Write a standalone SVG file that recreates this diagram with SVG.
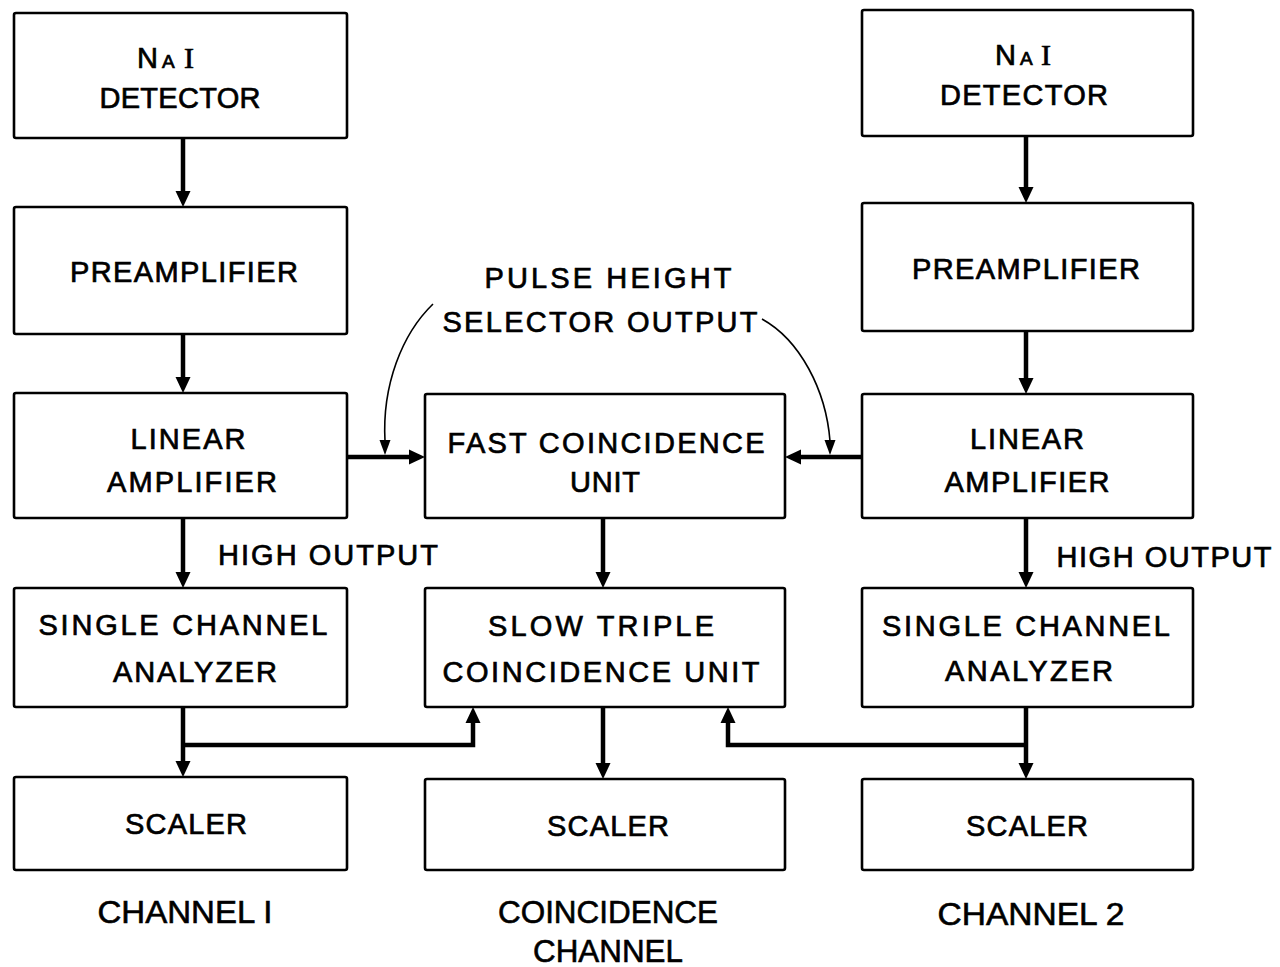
<svg xmlns="http://www.w3.org/2000/svg" xmlns:xlink="http://www.w3.org/1999/xlink" width="1280" height="967" viewBox="0 0 1280 967">
  <style>
    .box { fill: #fff; stroke: #000; stroke-width: 2.6; }
    .lbl { font-family: "Liberation Sans", Arial, sans-serif; font-size: 29px; fill: #000; stroke: #000; stroke-width: 0.7; text-anchor: middle; }
    .nai { font-family: "Liberation Sans", Arial, sans-serif; font-size: 29px; fill: #000; stroke: #000; stroke-width: 0.7; }
    .serif { font-family: "Liberation Serif", "Times New Roman", serif; }
    .cap { font-family: "Liberation Sans Narrow", "Liberation Sans", Arial, sans-serif; font-size: 32px; fill: #000; stroke: #000; stroke-width: 0.6; text-anchor: middle; }
    .wire { fill: none; stroke: #000; stroke-width: 4.5; }
    .thin { fill: none; stroke: #000; stroke-width: 1.6; }
  </style>
  <defs>
    <!-- arrowheads, tip at the origin, pointing down (+y) -->
    <path id="ah" d="M0,0 L-7.5,-16 L7.5,-16 Z" fill="#000"/>
    <path id="ahs" d="M0,0 L-5.5,-15 L5.5,-15 Z" fill="#000"/>
  </defs>
  <rect width="1280" height="967" fill="#fff"/>

  <!-- channel 1 -->
  <g id="det1">
    <rect class="box" x="14" y="13" width="333" height="125" rx="2"/>
    <text class="nai" y="68"><tspan x="137">N</tspan><tspan x="162" font-size="19">A</tspan><tspan x="184" class="serif" font-size="30">I</tspan></text>
    <text class="lbl" x="180" y="108" textLength="161" lengthAdjust="spacing">DETECTOR</text>
  </g>
  <g id="pre1">
    <rect class="box" x="14" y="207" width="333" height="127" rx="2"/>
    <text class="lbl" x="184" y="282" textLength="228" lengthAdjust="spacing">PREAMPLIFIER</text>
  </g>
  <g id="lin1">
    <rect class="box" x="14" y="393" width="333" height="125" rx="2"/>
    <text class="lbl" x="188" y="449" textLength="115" lengthAdjust="spacing">LINEAR</text>
    <text class="lbl" x="192" y="492" textLength="170" lengthAdjust="spacing">AMPLIFIER</text>
  </g>
  <g id="sca1">
    <rect class="box" x="14" y="588" width="333" height="119" rx="2"/>
    <text class="lbl" x="183" y="635" textLength="289" lengthAdjust="spacing">SINGLE CHANNEL</text>
    <text class="lbl" x="195" y="682" textLength="164" lengthAdjust="spacing">ANALYZER</text>
  </g>
  <g id="scaler1">
    <rect class="box" x="14" y="777" width="333" height="93" rx="2"/>
    <text class="lbl" x="186" y="834" textLength="122" lengthAdjust="spacing">SCALER</text>
  </g>

  <!-- coincidence channel -->
  <g id="fast">
    <rect class="box" x="425" y="394" width="360" height="124" rx="2"/>
    <text class="lbl" x="606" y="453" textLength="317" lengthAdjust="spacing">FAST COINCIDENCE</text>
    <text class="lbl" x="605" y="492" textLength="70" lengthAdjust="spacing">UNIT</text>
  </g>
  <g id="slow">
    <rect class="box" x="425" y="588" width="360" height="119" rx="2"/>
    <text class="lbl" x="601" y="636" textLength="226" lengthAdjust="spacing">SLOW TRIPLE</text>
    <text class="lbl" x="601" y="682" textLength="317" lengthAdjust="spacing">COINCIDENCE UNIT</text>
  </g>
  <g id="scaler3">
    <rect class="box" x="425" y="779" width="360" height="91" rx="2"/>
    <text class="lbl" x="608" y="836" textLength="122" lengthAdjust="spacing">SCALER</text>
  </g>

  <!-- channel 2 -->
  <g id="det2">
    <rect class="box" x="862" y="10" width="331" height="126" rx="2"/>
    <text class="nai" y="65"><tspan x="995">N</tspan><tspan x="1020" font-size="19">A</tspan><tspan x="1041" class="serif" font-size="30">I</tspan></text>
    <text class="lbl" x="1024" y="105" textLength="168" lengthAdjust="spacing">DETECTOR</text>
  </g>
  <g id="pre2">
    <rect class="box" x="862" y="203" width="331" height="128" rx="2"/>
    <text class="lbl" x="1026" y="279" textLength="228" lengthAdjust="spacing">PREAMPLIFIER</text>
  </g>
  <g id="lin2">
    <rect class="box" x="862" y="394" width="331" height="124" rx="2"/>
    <text class="lbl" x="1027" y="449" textLength="114" lengthAdjust="spacing">LINEAR</text>
    <text class="lbl" x="1027" y="492" textLength="165" lengthAdjust="spacing">AMPLIFIER</text>
  </g>
  <g id="sca2">
    <rect class="box" x="862" y="588" width="331" height="119" rx="2"/>
    <text class="lbl" x="1026" y="636" textLength="288" lengthAdjust="spacing">SINGLE CHANNEL</text>
    <text class="lbl" x="1029" y="681" textLength="168" lengthAdjust="spacing">ANALYZER</text>
  </g>
  <g id="scaler2">
    <rect class="box" x="862" y="779" width="331" height="91" rx="2"/>
    <text class="lbl" x="1027" y="836" textLength="122" lengthAdjust="spacing">SCALER</text>
  </g>

  <!-- free labels -->
  <g id="labels">
    <text class="lbl" x="608" y="288" textLength="247" lengthAdjust="spacing">PULSE HEIGHT</text>
    <text class="lbl" x="600" y="332" textLength="315" lengthAdjust="spacing">SELECTOR OUTPUT</text>
    <text class="lbl" x="328" y="565" textLength="220" lengthAdjust="spacing">HIGH OUTPUT</text>
    <text class="lbl" x="1164" y="567" textLength="215" lengthAdjust="spacing">HIGH OUTPUT</text>
    <text class="cap" x="185" y="923" textLength="175" lengthAdjust="spacingAndGlyphs">CHANNEL I</text>
    <text class="cap" x="608" y="923" textLength="220" lengthAdjust="spacingAndGlyphs">COINCIDENCE</text>
    <text class="cap" x="608" y="962" textLength="150" lengthAdjust="spacingAndGlyphs">CHANNEL</text>
    <text class="cap" x="1031" y="925" textLength="187" lengthAdjust="spacingAndGlyphs">CHANNEL 2</text>
  </g>

  <!-- connectors -->
  <g id="connectors">
    <path class="wire" d="M183,138 V193 M183,334 V379 M183,518 V574 M183,707 V763 M183,745 H473 V721"/>
    <path class="wire" d="M603,518 V574 M603,707 V765"/>
    <path class="wire" d="M1026,136 V189 M1026,331 V380 M1026,518 V574 M1026,707 V765 M1026,745 H728 V721"/>
    <path class="wire" d="M347,457 H411 M862,457 H799"/>
    <path class="thin" d="M433,304 C402,334 382,385 385,441"/>
    <path class="thin" d="M762,319 C800,340 826,390 830,441"/>

    <use xlink:href="#ah" transform="translate(183,207)"/>
    <use xlink:href="#ah" transform="translate(183,393)"/>
    <use xlink:href="#ah" transform="translate(183,588)"/>
    <use xlink:href="#ah" transform="translate(183,777)"/>
    <use xlink:href="#ah" transform="translate(473,707) rotate(180)"/>
    <use xlink:href="#ah" transform="translate(603,588)"/>
    <use xlink:href="#ah" transform="translate(603,779)"/>
    <use xlink:href="#ah" transform="translate(1026,203)"/>
    <use xlink:href="#ah" transform="translate(1026,394)"/>
    <use xlink:href="#ah" transform="translate(1026,588)"/>
    <use xlink:href="#ah" transform="translate(1026,779)"/>
    <use xlink:href="#ah" transform="translate(728,707) rotate(180)"/>
    <use xlink:href="#ah" transform="translate(425,457) rotate(-90)"/>
    <use xlink:href="#ah" transform="translate(785,457) rotate(90)"/>
    <use xlink:href="#ahs" transform="translate(385,455)"/>
    <use xlink:href="#ahs" transform="translate(830,455)"/>
  </g>
</svg>
